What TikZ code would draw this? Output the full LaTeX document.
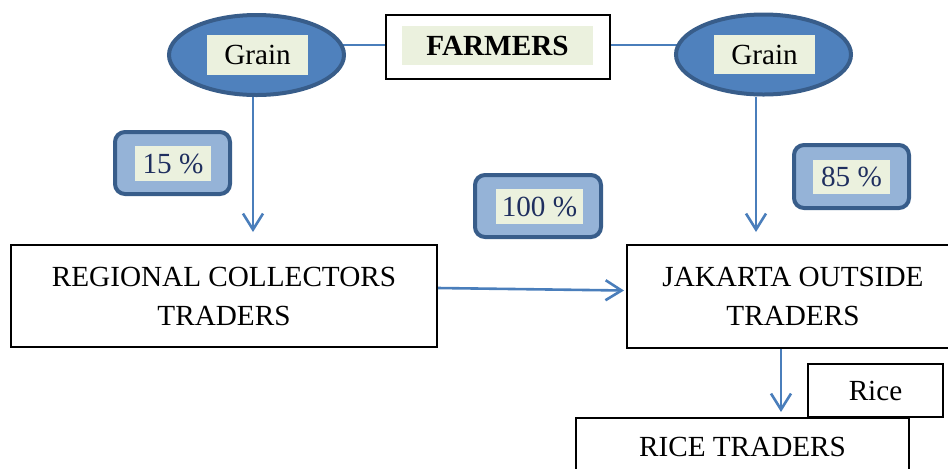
\documentclass[tikz,border=0pt]{standalone}
\usepackage{fontspec}
\setmainfont{Liberation Serif}
\usetikzlibrary{arrows.meta,shapes.geometric}
\definecolor{ellfill}{HTML}{4F81BD}
\definecolor{darkbd}{HTML}{385D8A}
\definecolor{pctfill}{HTML}{95B3D7}
\definecolor{greenbg}{HTML}{EBF1DE}
\definecolor{pcttext}{HTML}{1F2F5F}
\definecolor{linecol}{HTML}{4A7EBB}
\tikzset{
  px/.style={x=0.5pt,y=-0.5pt},
  txt/.style={font=\fontsize{14.6}{19.5}\selectfont},
  wbox/.style={draw=black,line width=1pt,fill=white,inner sep=0pt,align=center,txt},
  grainell/.style={ellipse,draw=darkbd,line width=2pt,fill=ellfill,inner sep=0pt,minimum width=87.5pt,minimum height=40pt},
  pctbox/.style={draw=darkbd,line width=2pt,fill=pctfill,rounded corners=5pt,inner sep=0pt},
  greenlab/.style={fill=greenbg,inner sep=0pt,txt},
  arr/.style={draw=linecol,line width=1.3pt,-{Straight Barb[length=8pt,width=10pt,line width=1.3pt]}},
  conn/.style={draw=linecol,line width=1.2pt}
}
\begin{document}
\begin{tikzpicture}[px]
\useasboundingbox (0,0) rectangle (948,468);
% boxes
\node[wbox,minimum width=112pt,minimum height=32pt] (farm) at (498,47) {};
\node[greenlab,minimum width=95.5pt,minimum height=19.5pt,font=\fontsize{14.6}{19.5}\selectfont\bfseries] (farmt) at (497.5,45.5) {FARMERS};
% connectors to grain ellipses
\draw[conn] ([yshift=1pt]farm.west) -- ++(-40pt,0);
\draw[conn] ([yshift=1pt]farm.east) -- ++(36pt,0);
\node[grainell] (gL) at (256.5,55) {};
\node[greenlab,minimum width=50.5pt,minimum height=20pt] (gLt) at (257.5,55) {Grain};
\node[grainell] (gR) at (763.5,54.5) {};
\node[greenlab,minimum width=50.5pt,minimum height=19.5pt] (gRt) at (764.5,54.5) {Grain};
% trader boxes
\node[wbox,minimum width=213pt,minimum height=51pt] (reg) at (224,296) {REGIONAL COLLECTORS\\TRADERS};
\node[wbox,minimum width=166pt,minimum height=51.5pt] (jak) at (793,296.5) {\raisebox{0pt}[0pt][0pt]{}JAKARTA OUTSIDE\\TRADERS};
\node[wbox,minimum width=67.5pt,minimum height=26.5pt,text depth=0pt] (rice) at (875.5,390.5) {Rice};
\node[wbox,minimum width=166.5pt,minimum height=29pt] (rt) at (742.5,447) {RICE TRADERS};
% percentage boxes
\node[pctbox,minimum width=57.5pt,minimum height=31pt] (p15) at (172.5,163) {};
\node[greenlab,minimum width=38pt,minimum height=17.5pt,text=pcttext] (p15t) at (173,163.5) {15 \%};
\node[pctbox,minimum width=63pt,minimum height=31pt] (p100) at (538,206) {};
\node[greenlab,minimum width=43.5pt,minimum height=17.5pt,text=pcttext] (p100t) at (539.5,206.5) {100 \%};
\node[pctbox,minimum width=57.5pt,minimum height=31.5pt] (p85) at (851.5,176.5) {};
\node[greenlab,minimum width=38.5pt,minimum height=17pt,text=pcttext] (p85t) at (851.5,177) {85 \%};
% arrows
\draw[arr] ([xshift=-1.75pt]gL.south) -- ([xshift=-1.75pt,yshift=6pt]gL.south |- reg.north);
\draw[arr] ([xshift=-3.75pt]gR.south) -- ([xshift=-3.75pt,yshift=6pt]gR.south |- jak.north);
\draw[arr] ([yshift=4pt]reg.east) -- ([xshift=-1pt,yshift=3pt]jak.west);
\draw[arr] ([xshift=-6pt]jak.south) -- ([xshift=-6pt,yshift=2.5pt]jak.south |- rt.north);
\end{tikzpicture}
\end{document}
